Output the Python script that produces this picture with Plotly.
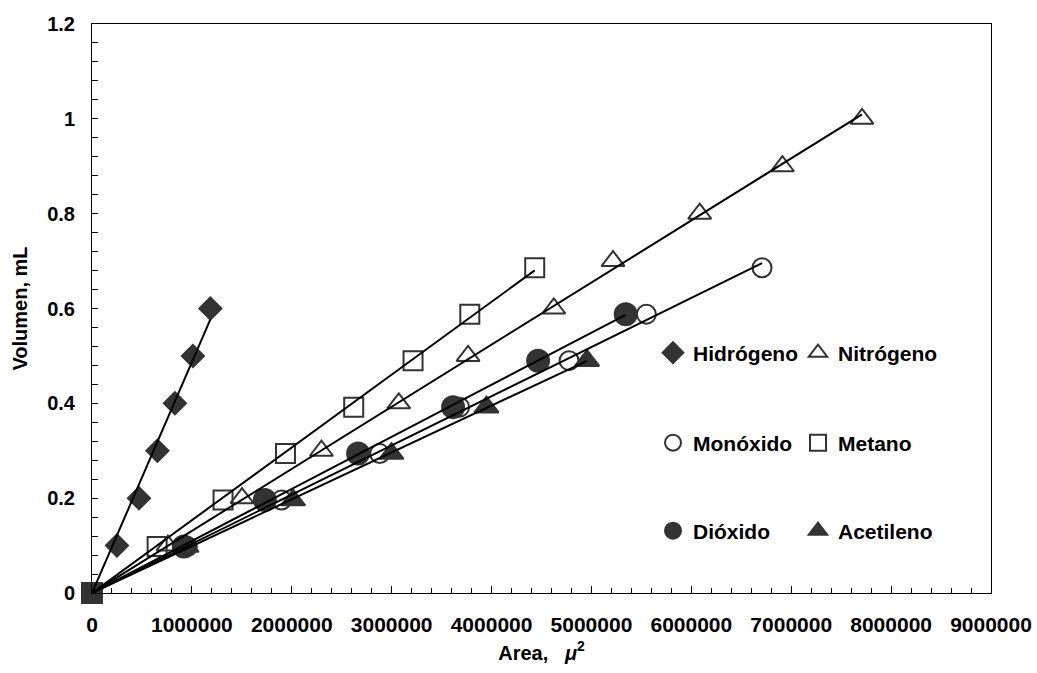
import plotly.graph_objects as go

# Area (μ²) and volume (mL) readings per gas
hidrogeno_x = [250000, 470000, 655000, 830000, 1010000, 1185000]
hidrogeno_y = [0.1, 0.2, 0.3, 0.4, 0.5, 0.6]

nitrogeno_x = [760000, 1502000, 2297000, 3071000, 3765000, 4623000, 5216000, 6084000, 6912000, 7709000]
nitrogeno_y = [0.1, 0.2, 0.3, 0.4, 0.5, 0.6, 0.7, 0.8, 0.9, 1.0]

monoxido_x = [955000, 1897000, 2880000, 3680000, 4776000, 5550000, 6708000]
monoxido_y = [0.098, 0.196, 0.294, 0.392, 0.49, 0.588, 0.686]

metano_x = [652000, 1312000, 1937000, 2620000, 3214000, 3782000, 4432000]
metano_y = [0.098, 0.196, 0.294, 0.392, 0.49, 0.588, 0.686]

dioxido_x = [919000, 1730000, 2664000, 3615000, 4466000, 5343000]
dioxido_y = [0.098, 0.196, 0.294, 0.392, 0.49, 0.588]

acetileno_x = [946000, 2013000, 2998000, 3949000, 4956000]
acetileno_y = [0.098, 0.196, 0.294, 0.392, 0.49]

origin_x = [0]
origin_y = [0]

x_ticks = [0, 1000000, 2000000, 3000000, 4000000, 5000000, 6000000, 7000000, 8000000, 9000000]
y_ticks = [0, 0.2, 0.4, 0.6, 0.8, 1.0, 1.2]

GRAY = "#333333"
FONT = "Liberation Sans, Arial, sans-serif"

series = [
    ("Hidrógeno", hidrogeno_x, hidrogeno_y, "diamond", 17, "legend"),
    ("Nitrógeno", nitrogeno_x, nitrogeno_y, "triangle-up-open", 20, "legend"),
    ("Monóxido", monoxido_x, monoxido_y, "circle-open", 19, "legend2"),
    ("Metano", metano_x, metano_y, "square-open", 19, "legend2"),
    ("Dióxido", dioxido_x, dioxido_y, "circle", 22, "legend3"),
    ("Acetileno", acetileno_x, acetileno_y, "triangle-up", 21, "legend3"),
]

fig = go.Figure()

for name, xs, ys, sym, size, leg in series:
    fig.add_trace(go.Scatter(
        x=xs, y=ys, mode="markers", name=name, legend=leg,
        marker=dict(symbol=sym, size=size, color=GRAY, line=dict(color=GRAY, width=2)),
        cliponaxis=False,
    ))

fig.add_trace(go.Scatter(
    x=origin_x, y=origin_y, mode="markers", showlegend=False,
    marker=dict(symbol="square", size=22, color=GRAY, line=dict(width=0)),
    cliponaxis=False,
))

# Trend lines through the origin (least squares, zero intercept)
for name, xs, ys, sym, size, leg in series:
    slope = sum(a * b for a, b in zip(xs, ys)) / sum(a * a for a in xs)
    xe = max(xs)
    fig.add_trace(go.Scatter(
        x=[0, xe], y=[0, slope * xe], mode="lines", showlegend=False,
        line=dict(color="black", width=2), hoverinfo="skip",
    ))

# Plot area in pixels: left 92, right 991, top 24, bottom 593
PL, PW, PB, PH = 92, 899, 593, 569

legend_common = dict(
    orientation="h", xref="paper", yref="paper",
    xanchor="left", yanchor="middle",
    font=dict(family=FONT, size=21, color="black", weight="bold"),
    entrywidth=100, entrywidthmode="pixels",
    bgcolor="rgba(0,0,0,0)", borderwidth=0, itemclick=False,
)
lx = (675 - 22 - PL) / PW

fig.update_layout(
    width=1037, height=673,
    margin=dict(l=92, r=46, t=24, b=80, autoexpand=False),
    paper_bgcolor="white", plot_bgcolor="white",
    legend=dict(**legend_common, x=lx, y=(PB - 353) / PH),
    legend2=dict(**legend_common, x=lx, y=(PB - 443) / PH),
    legend3=dict(**legend_common, x=lx, y=(PB - 531) / PH),
    xaxis=dict(
        range=[0, 9000000], tickvals=x_ticks, tickformat="d",
        showline=True, linecolor="black", linewidth=1, mirror=True,
        showgrid=False, zeroline=False,
        ticks="inside", ticklen=7, tickcolor="black",
        minor=dict(dtick=200000, ticks="inside", ticklen=5, tickcolor="black", showgrid=False),
        tickfont=dict(family=FONT, size=21, color="black", weight="bold"),
        ticklabelstandoff=13,
        title=dict(text="Area,   <i>μ</i><sup>2</sup>", standoff=10,
                   font=dict(family=FONT, size=20, color="black", weight="bold")),
    ),
    yaxis=dict(
        range=[0, 1.2], tickvals=y_ticks,
        showline=True, linecolor="black", linewidth=1, mirror=True,
        showgrid=False, zeroline=False,
        ticks="inside", ticklen=6, tickcolor="black",
        minor=dict(dtick=0.04, ticks="inside", ticklen=6, tickcolor="black", showgrid=False),
        tickfont=dict(family=FONT, size=20, color="black", weight="bold"),
        ticklabelstandoff=12,
        title=dict(text="Volumen, mL", standoff=14,
                   font=dict(family=FONT, size=20, color="black", weight="bold")),
    ),
)

fig.write_html("out.html")
